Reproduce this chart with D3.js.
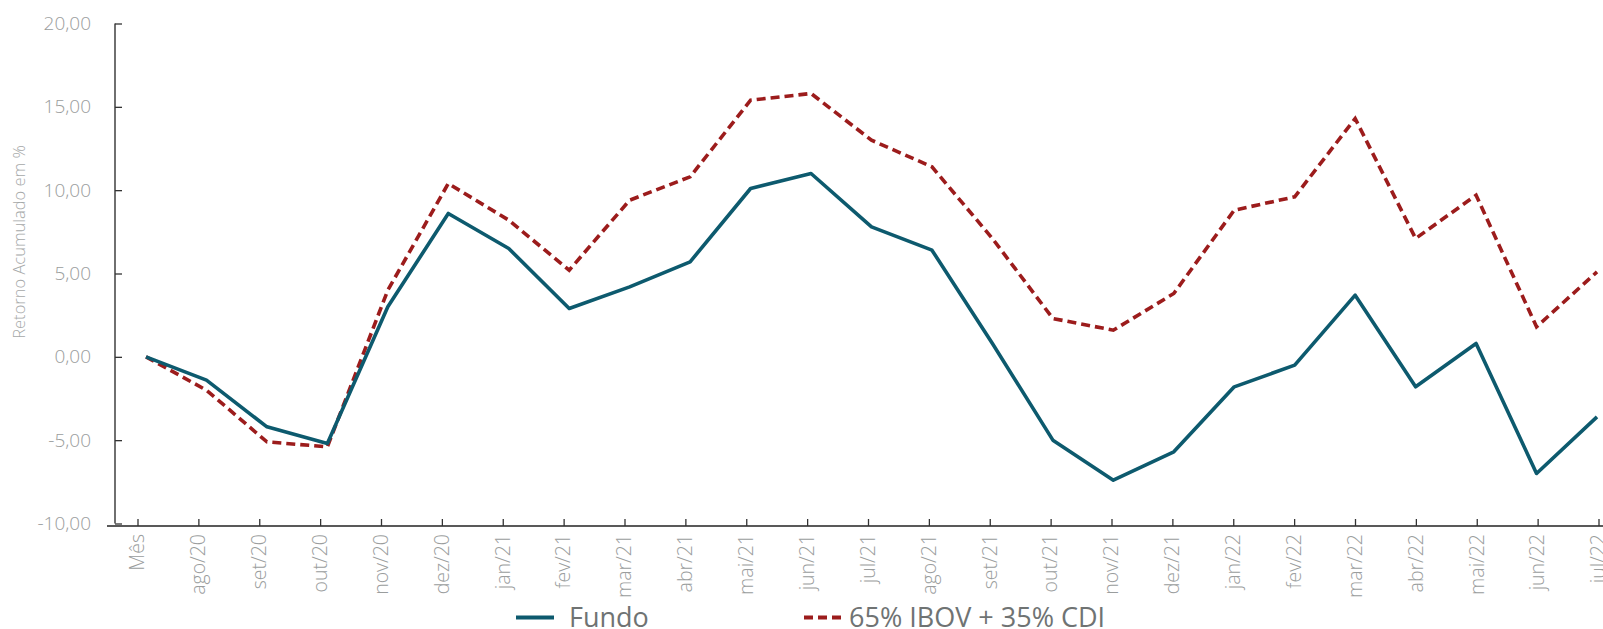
<!DOCTYPE html>
<html>
<head>
<meta charset="utf-8">
<script src="https://cdn.jsdelivr.net/npm/d3@7"></script>
<style>
  body { margin: 0; background: #fff; }
  svg { display: block; font-family: "Open Sans", sans-serif; }
</style>
</head>
<body>
<div id="chart"></div>
<script>
// months on the x axis ("Mês" is the starting point)
var months = ["Mês", "ago/20", "set/20", "out/20", "nov/20", "dez/20",
  "jan/21", "fev/21", "mar/21", "abr/21", "mai/21", "jun/21", "jul/21", "ago/21", "set/21", "out/21", "nov/21", "dez/21",
  "jan/22", "fev/22", "mar/22", "abr/22", "mai/22", "jun/22", "jul/22"];

// accumulated return, %
var fundo = [0, -1.4, -4.2, -5.2, 3.0, 8.6,
  6.5, 2.9, 4.2, 5.7, 10.1, 11.0, 7.8, 6.4, 0.8, -5.0, -7.4, -5.7,
  -1.8, -0.5, 3.7, -1.8, 0.8, -7.0, -3.6];

var benchmark = [0, -2.0, -5.1, -5.4, 4.0, 10.4,
  8.2, 5.2, 9.4, 10.8, 15.4, 15.8, 13.0, 11.4, 7.1, 2.3, 1.6, 3.8,
  8.8, 9.6, 14.3, 7.1, 9.7, 1.8, 5.1];

var yTicks = [-10, -5, 0, 5, 10, 15, 20];
var seriesNames = ["Fundo", "65% IBOV + 35% CDI"];

let width = 1603, height = 629;

let svg = d3.select("#chart").append("svg")
  .attr("width", width)
  .attr("height", height);

// tick positions and point positions are slightly different in the original
let xAxisScale = d3.scalePoint().domain(months).range([137.5, 1598.5]);
let xPoint = d3.scalePoint().domain(months).range([146, 1597]);

let y = d3.scaleLinear().domain([-10, 20]).range([523.5, 23.5]);

// 1.234 -> "1,23", plain hyphen for negatives
let fmt = (v) => d3.format(".2f")(v).replace(".", ",").replace("\u2212", "-");

// y axis
let yAxis = d3.axisRight(y)
  .tickValues(yTicks)
  .tickSize(7)
  .tickFormat("");

let yg = svg.append("g")
  .attr("transform", "translate(115,0)")
  .call(yAxis);
yg.select(".domain").attr("d", "M0," + y(-10) + "V" + y(20)).attr("stroke", "#222").attr("stroke-width", 1.3);
yg.selectAll(".tick line").attr("stroke", "#333").attr("stroke-width", 1.3);

svg.append("g").selectAll("text")
  .data(yTicks)
  .enter().append("text")
    .attr("x", 91)
    .attr("y", (d) => y(d))
    .attr("dy", "0.35em")
    .attr("text-anchor", "end")
    .attr("fill", "#9a9d9d")
    .attr("font-size", 19)
    .attr("font-weight", 300)
    .text((d) => fmt(d));

svg.append("text")
  .attr("transform", "translate(19,242) rotate(-90)")
  .attr("dy", "0.35em")
  .attr("text-anchor", "middle")
  .attr("fill", "#a5a8a8")
  .attr("font-size", 16.5)
  .attr("font-weight", 300)
  .text("Retorno Acumulado em %");

// x axis
let xAxis = d3.axisTop(xAxisScale).tickSize(7).tickFormat("");
let xg = svg.append("g")
  .attr("transform", "translate(0,526)")
  .call(xAxis);
xg.select(".domain").attr("d", "M107,0H1603").attr("stroke", "#222").attr("stroke-width", 1.3);
xg.selectAll(".tick line").attr("stroke", "#333").attr("stroke-width", 1.3);

svg.append("g").selectAll("text")
  .data(months)
  .enter().append("text")
    .attr("transform", (d) => "translate(" + xAxisScale(d) + ",534) rotate(-90)")
    .attr("dy", "0.35em")
    .attr("text-anchor", "end")
    .attr("fill", "#9a9d9d")
    .attr("font-size", 19.5)
    .attr("font-weight", 300)
    .text((d) => d);

// lines
let line = (vals) => d3.line()
  .x((d, i) => xPoint(months[i]))
  .y((d) => y(d))(vals);

svg.append("path")
  .attr("d", line(benchmark))
  .attr("fill", "none")
  .attr("stroke", "#9c1c1c")
  .attr("stroke-width", 3.6)
  .attr("stroke-dasharray", "9,5");

svg.append("path")
  .attr("d", line(fundo))
  .attr("fill", "none")
  .attr("stroke", "#0d5a6e")
  .attr("stroke-width", 3.6)
  .attr("stroke-linejoin", "round");

// legend
let legend = svg.append("g");
legend.append("line")
  .attr("x1", 516).attr("x2", 554).attr("y1", 617.5).attr("y2", 617.5)
  .attr("stroke", "#0d5a6e").attr("stroke-width", 4);
legend.append("text")
  .attr("x", 569).attr("y", 627)
  .attr("fill", "#6f7373").attr("font-size", 27)
  .text(seriesNames[0]);
legend.append("line")
  .attr("x1", 804).attr("x2", 844).attr("y1", 617.5).attr("y2", 617.5)
  .attr("stroke", "#9c1c1c").attr("stroke-width", 4)
  .attr("stroke-dasharray", "9,5");
legend.append("text")
  .attr("x", 849).attr("y", 627)
  .attr("fill", "#6f7373").attr("font-size", 27)
  .text(seriesNames[1]);
</script>
</body>
</html>
